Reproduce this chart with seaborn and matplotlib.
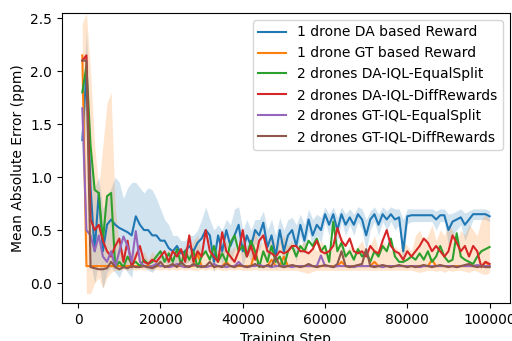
import matplotlib
matplotlib.use("Agg")
import matplotlib.pyplot as plt
import seaborn as sns

# training steps: one evaluation every 1000 steps
steps = list(range(1000, 100001, 1000))

labels = ['1 drone DA based Reward', '1 drone GT based Reward',
          '2 drones DA-IQL-EqualSplit', '2 drones DA-IQL-DiffRewards',
          '2 drones GT-IQL-EqualSplit', '2 drones GT-IQL-DiffRewards']

da_1 = [1.35, 2.00, 0.90, 0.30, 0.85, 0.30, 0.55, 0.60, 0.55, 0.52,
        0.50, 0.48, 0.45, 0.63, 0.55, 0.50, 0.50, 0.45, 0.45, 0.40,
        0.40, 0.33, 0.30, 0.35, 0.28, 0.30, 0.35, 0.30, 0.38, 0.42,
        0.50, 0.45, 0.20, 0.45, 0.30, 0.50, 0.35, 0.45, 0.55, 0.30,
        0.45, 0.35, 0.50, 0.45, 0.57, 0.34, 0.45, 0.25, 0.50, 0.30,
        0.45, 0.50, 0.35, 0.55, 0.40, 0.60, 0.45, 0.55, 0.50, 0.65,
        0.55, 0.65, 0.50, 0.65, 0.55, 0.62, 0.55, 0.65, 0.60, 0.45,
        0.60, 0.65, 0.55, 0.65, 0.60, 0.65, 0.60, 0.62, 0.30, 0.63,
        0.64, 0.64, 0.64, 0.64, 0.64, 0.64, 0.60, 0.64, 0.64, 0.50,
        0.58, 0.60, 0.62, 0.55, 0.60, 0.65, 0.65, 0.65, 0.65, 0.63]
da_1_lo = [1.10, 1.50, 0.20, 0.00, 0.20, -0.05, 0.10, 0.15, 0.10, 0.05,
           0.15, 0.10, 0.05, 0.30, 0.20, 0.15, 0.12, 0.10, 0.15, 0.15,
           0.20, 0.15, 0.15, 0.20, 0.15, 0.18, 0.20, 0.15, 0.22, 0.25,
           0.30, 0.30, 0.10, 0.30, 0.15, 0.35, 0.20, 0.30, 0.40, 0.15,
           0.30, 0.20, 0.38, 0.30, 0.45, 0.20, 0.30, 0.12, 0.38, 0.15,
           0.32, 0.38, 0.20, 0.45, 0.28, 0.50, 0.32, 0.45, 0.38, 0.58,
           0.45, 0.58, 0.38, 0.58, 0.45, 0.55, 0.45, 0.58, 0.50, 0.30,
           0.50, 0.58, 0.45, 0.58, 0.50, 0.58, 0.50, 0.55, 0.15, 0.56,
           0.58, 0.58, 0.58, 0.58, 0.58, 0.58, 0.50, 0.58, 0.58, 0.35,
           0.45, 0.50, 0.55, 0.40, 0.50, 0.60, 0.60, 0.60, 0.60, 0.58]
da_1_hi = [1.60, 2.40, 1.30, 0.90, 1.00, 0.70, 0.80, 0.90, 1.00, 0.95,
           0.80, 0.90, 0.95, 0.95, 0.90, 0.85, 0.90, 0.88, 0.80, 0.70,
           0.60, 0.55, 0.45, 0.45, 0.40, 0.40, 0.45, 0.45, 0.50, 0.60,
           0.72, 0.60, 0.50, 0.55, 0.50, 0.60, 0.55, 0.70, 0.72, 0.50,
           0.60, 0.50, 0.60, 0.60, 0.68, 0.50, 0.60, 0.45, 0.62, 0.50,
           0.60, 0.62, 0.55, 0.65, 0.55, 0.70, 0.60, 0.65, 0.62, 0.72,
           0.65, 0.72, 0.62, 0.72, 0.65, 0.70, 0.65, 0.72, 0.70, 0.60,
           0.68, 0.72, 0.65, 0.72, 0.68, 0.72, 0.70, 0.70, 0.60, 0.70,
           0.70, 0.70, 0.70, 0.70, 0.70, 0.70, 0.68, 0.70, 0.70, 0.65,
           0.66, 0.68, 0.70, 0.66, 0.68, 0.70, 0.70, 0.70, 0.70, 0.68]

gt_1 = [2.15, 0.16, 0.16, 0.16, 0.16, 0.16, 0.16, 0.16, 0.16, 0.16,
        0.16, 0.16, 0.16, 0.16, 0.16, 0.16, 0.16, 0.16, 0.16, 0.16,
        0.16, 0.16, 0.16, 0.16, 0.16, 0.16, 0.16, 0.16, 0.28, 0.16,
        0.16, 0.16, 0.16, 0.16, 0.16, 0.20, 0.16, 0.16, 0.16, 0.16,
        0.16, 0.16, 0.30, 0.16, 0.16, 0.16, 0.22, 0.16, 0.16, 0.25,
        0.16, 0.16, 0.16, 0.16, 0.16, 0.16, 0.16, 0.16, 0.16, 0.16,
        0.16, 0.16, 0.16, 0.20, 0.16, 0.16, 0.16, 0.16, 0.16, 0.16,
        0.16, 0.20, 0.16, 0.16, 0.16, 0.16, 0.16, 0.16, 0.16, 0.16,
        0.16, 0.16, 0.16, 0.16, 0.16, 0.22, 0.16, 0.16, 0.16, 0.16,
        0.16, 0.16, 0.16, 0.16, 0.16, 0.16, 0.16, 0.16, 0.20, 0.16]
gt_1_lo = [1.85, -0.10, -0.10, 0.00, 0.05, -0.05, 0.05, 0.10, 0.12, 0.12,
           0.13, 0.12, 0.13, 0.12, 0.13, 0.12, 0.13, 0.12, 0.13, 0.12,
           0.13, 0.12, 0.13, 0.12, 0.13, 0.12, 0.13, 0.12, 0.12, 0.13,
           0.12, 0.13, 0.12, 0.13, 0.12, 0.12, 0.13, 0.12, 0.13, 0.12,
           0.12, 0.12, 0.13, 0.12, 0.12, 0.12, 0.12, 0.12, 0.12, 0.12,
           0.12, 0.12, 0.12, 0.11, 0.10, 0.09, 0.11, 0.12, 0.12, 0.12,
           0.12, 0.12, 0.12, 0.12, 0.12, 0.12, 0.12, 0.12, 0.12, 0.12,
           0.12, 0.12, 0.12, 0.12, 0.12, 0.12, 0.12, 0.12, 0.12, 0.12,
           0.12, 0.11, 0.10, 0.11, 0.12, 0.12, 0.11, 0.12, 0.10, 0.12,
           0.11, 0.12, 0.12, 0.11, 0.10, 0.12, 0.11, 0.09, 0.08, 0.10]
gt_1_hi = [2.45, 2.55, 2.00, 1.30, 0.90, 1.30, 1.70, 1.80, 0.70, 0.35,
           0.30, 0.25, 0.28, 0.30, 0.25, 0.30, 0.22, 0.30, 0.25, 0.28,
           0.25, 0.32, 0.25, 0.30, 0.28, 0.35, 0.30, 0.40, 0.45, 0.30,
           0.28, 0.30, 0.35, 0.30, 0.32, 0.40, 0.30, 0.35, 0.30, 0.30,
           0.35, 0.40, 0.50, 0.35, 0.40, 0.30, 0.45, 0.35, 0.40, 0.45,
           0.35, 0.40, 0.30, 0.35, 0.40, 0.30, 0.35, 0.30, 0.40, 0.35,
           0.30, 0.40, 0.35, 0.45, 0.30, 0.35, 0.30, 0.35, 0.40, 0.30,
           0.35, 0.45, 0.30, 0.40, 0.35, 0.30, 0.35, 0.30, 0.40, 0.35,
           0.30, 0.45, 0.50, 0.40, 0.45, 0.55, 0.40, 0.50, 0.45, 0.55,
           0.50, 0.40, 0.50, 0.45, 0.55, 0.50, 0.45, 0.60, 0.65, 0.60]

da_equal = [1.80, 2.05, 1.30, 0.88, 0.85, 0.40, 0.82, 0.85, 0.15, 0.20,
            0.15, 0.25, 0.18, 0.20, 0.16, 0.22, 0.18, 0.20, 0.25, 0.30,
            0.20, 0.28, 0.20, 0.32, 0.18, 0.30, 0.22, 0.30, 0.15, 0.25,
            0.30, 0.22, 0.35, 0.20, 0.28, 0.20, 0.38, 0.45, 0.30, 0.35,
            0.25, 0.40, 0.30, 0.15, 0.30, 0.20, 0.35, 0.20, 0.25, 0.15,
            0.30, 0.35, 0.25, 0.35, 0.30, 0.40, 0.35, 0.42, 0.30, 0.35,
            0.20, 0.58, 0.30, 0.38, 0.25, 0.30, 0.22, 0.32, 0.25, 0.30,
            0.20, 0.30, 0.25, 0.35, 0.30, 0.42, 0.25, 0.20, 0.20, 0.22,
            0.25, 0.22, 0.28, 0.22, 0.30, 0.20, 0.25, 0.35, 0.25, 0.20,
            0.22, 0.47, 0.25, 0.22, 0.20, 0.18, 0.25, 0.30, 0.32, 0.34]

da_diff = [2.10, 2.15, 0.60, 0.50, 0.55, 0.40, 0.30, 0.25, 0.35, 0.42,
           0.20, 0.40, 0.15, 0.25, 0.35, 0.20, 0.18, 0.22, 0.20, 0.25,
           0.30, 0.20, 0.30, 0.25, 0.32, 0.20, 0.45, 0.20, 0.30, 0.25,
           0.50, 0.30, 0.25, 0.20, 0.48, 0.30, 0.25, 0.20, 0.30, 0.50,
           0.25, 0.35, 0.22, 0.40, 0.45, 0.30, 0.28, 0.25, 0.30, 0.28,
           0.30, 0.35, 0.35, 0.30, 0.30, 0.28, 0.32, 0.40, 0.30, 0.28,
           0.30, 0.35, 0.52, 0.40, 0.35, 0.42, 0.30, 0.28, 0.30, 0.25,
           0.35, 0.30, 0.28, 0.40, 0.50, 0.35, 0.30, 0.28, 0.22, 0.30,
           0.25, 0.30, 0.35, 0.42, 0.38, 0.30, 0.35, 0.30, 0.25, 0.30,
           0.45, 0.38, 0.30, 0.35, 0.25, 0.35, 0.30, 0.15, 0.20, 0.18]

gt_equal = [1.65, 0.50, 0.45, 0.30, 0.45, 0.25, 0.20, 0.30, 0.15, 0.30,
            0.44, 0.35, 0.20, 0.49, 0.20, 0.16, 0.15, 0.16, 0.18, 0.16,
            0.16, 0.15, 0.16, 0.18, 0.16, 0.15, 0.16, 0.17, 0.16, 0.16,
            0.15, 0.16, 0.18, 0.16, 0.16, 0.15, 0.16, 0.16, 0.20, 0.16,
            0.15, 0.16, 0.16, 0.17, 0.16, 0.16, 0.15, 0.16, 0.16, 0.16,
            0.16, 0.15, 0.16, 0.16, 0.16, 0.16, 0.16, 0.16, 0.26, 0.16,
            0.16, 0.15, 0.16, 0.16, 0.16, 0.16, 0.15, 0.16, 0.16, 0.16,
            0.16, 0.16, 0.16, 0.15, 0.16, 0.16, 0.16, 0.16, 0.16, 0.16,
            0.16, 0.16, 0.15, 0.16, 0.16, 0.16, 0.16, 0.16, 0.16, 0.16,
            0.16, 0.15, 0.16, 0.16, 0.16, 0.16, 0.17, 0.16, 0.16, 0.16]

gt_diff = [2.10, 2.10, 0.15, 0.14, 0.13, 0.13, 0.14, 0.20, 0.15, 0.13,
           0.15, 0.14, 0.16, 0.15, 0.15, 0.16, 0.15, 0.14, 0.16, 0.20,
           0.15, 0.16, 0.18, 0.15, 0.20, 0.16, 0.15, 0.18, 0.16, 0.15,
           0.16, 0.20, 0.15, 0.16, 0.15, 0.18, 0.16, 0.15, 0.17, 0.16,
           0.15, 0.16, 0.18, 0.16, 0.15, 0.17, 0.16, 0.25, 0.16, 0.15,
           0.16, 0.17, 0.16, 0.15, 0.16, 0.18, 0.16, 0.15, 0.16, 0.17,
           0.16, 0.15, 0.18, 0.30, 0.16, 0.15, 0.16, 0.17, 0.18, 0.32,
           0.16, 0.15, 0.16, 0.17, 0.16, 0.15, 0.16, 0.17, 0.16, 0.15,
           0.16, 0.15, 0.16, 0.17, 0.16, 0.15, 0.16, 0.17, 0.16, 0.15,
           0.16, 0.15, 0.16, 0.17, 0.18, 0.16, 0.15, 0.16, 0.15, 0.15]

series = [da_1, gt_1, da_equal, da_diff, gt_equal, gt_diff]
bands = {0: (da_1_lo, da_1_hi), 1: (gt_1_lo, gt_1_hi)}

colors = sns.color_palette('tab10', 6)

fig = plt.figure(figsize=(5.12, 3.41), dpi=100)
ax = fig.add_axes([0.121, 0.111, 0.875, 0.851])

# shaded spread first so every line sits on top
for i, (lo, hi) in bands.items():
    ax.fill_between(steps, lo, hi, color=colors[i], alpha=0.2, linewidth=0)

for vals, name, c in zip(series, labels, colors):
    sns.lineplot(x=steps, y=vals, label=name, color=c, ax=ax)

ax.set_ylim(-0.19, 2.55)
ax.set_xlabel('Training Step')
ax.set_ylabel('Mean Absolute Error (ppm)')
ax.legend(loc='upper right')

fig.savefig('out.png', dpi=100)
